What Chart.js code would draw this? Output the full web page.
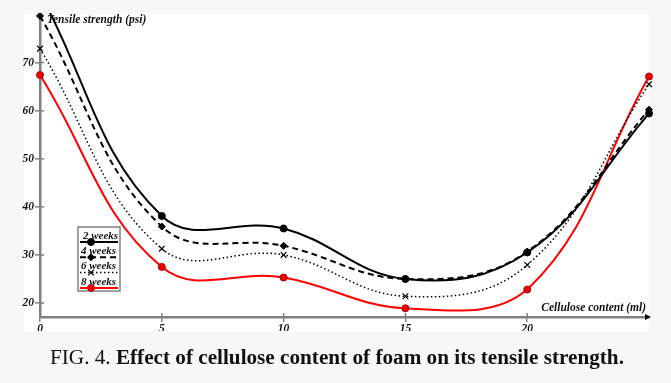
<!DOCTYPE html>
<html>
<head>
<meta charset="utf-8">
<script src="https://cdn.jsdelivr.net/npm/chart.js@4/dist/chart.umd.min.js"></script>
<style>
  html,body{margin:0;padding:0;background:#f7f7f7;}
  #wrap{position:relative;width:671px;height:383px;overflow:hidden;}
  #c{position:absolute;left:0;top:0;}
  #cap{position:absolute;left:50px;top:347px;font-family:"Liberation Serif","Times New Roman",serif;font-size:21.2px;line-height:21px;color:#111;white-space:nowrap;}
  #cap b{font-weight:bold;}
</style>
</head>
<body>
<div id="wrap">
<canvas id="c" width="671" height="383"></canvas>
<div id="cap">FIG. 4. <b>Effect of cellulose content of foam on its tensile strength.</b></div>
</div>
<script>
const xValues = [0, 5, 10, 15, 20, 25];
const weeks2 = [84.4, 38.1, 35.5, 25.0, 30.5, 59.4];
const weeks4 = [79.7, 35.9, 31.9, 25.0, 30.7, 60.2];
const weeks6 = [72.9, 31.3, 30.0, 21.4, 27.9, 65.5];
const weeks8 = [67.4, 27.5, 25.3, 18.9, 22.8, 67.1];
const seriesNames = ['2 weeks', '4 weeks', '6 weeks', '8 weeks'];
const xTicks = [0, 5, 10, 15, 20];
const yTicks = [20, 30, 40, 50, 60, 70];
const yTitle = 'Tensile strength (psi)';
const xTitle = 'Cellulose content (ml)';

const FONT = '"Liberation Serif","Times New Roman",serif';
const toPts = arr => arr.map((v, i) => ({x: xValues[i], y: v}));
const clip = {left: 10, right: 10, top: 1, bottom: 10};

const datasets = [
  {label: seriesNames[0], data: toPts(weeks2), borderColor: '#000', borderWidth: 2,
   pointStyle: 'circle', pointRadius: 3.5, pointBackgroundColor: '#000', pointBorderColor: '#000', pointBorderWidth: 1},
  {label: seriesNames[1], data: toPts(weeks4), borderColor: '#000', borderWidth: 2, borderDash: [6, 4],
   pointStyle: 'rectRot', pointRadius: 3.5, pointBackgroundColor: '#000', pointBorderColor: '#000', pointBorderWidth: 1},
  {label: seriesNames[2], data: toPts(weeks6), borderColor: '#000', borderWidth: 1.5, borderDash: [1.5, 2.5],
   pointStyle: 'crossRot', pointRadius: 4, pointBackgroundColor: '#000', pointBorderColor: '#000', pointBorderWidth: 1.2},
  {label: seriesNames[3], data: toPts(weeks8), borderColor: '#ff0000', borderWidth: 2,
   pointStyle: 'circle', pointRadius: 3.5, pointBackgroundColor: '#ee0000', pointBorderColor: '#aa0000', pointBorderWidth: 1}
].map(d => Object.assign(d, {tension: 0.4, fill: false, clip: clip}));

const bgPlugin = {
  id: 'bg',
  beforeDraw(chart) {
    const ctx = chart.ctx;
    ctx.save();
    ctx.fillStyle = '#f7f7f7';
    ctx.fillRect(0, 0, chart.width, chart.height);
    ctx.fillStyle = '#ffffff';
    ctx.fillRect(24, 14, 625, 318);
    ctx.restore();
  }
};

const decoPlugin = {
  id: 'deco',
  afterDraw(chart) {
    const ctx = chart.ctx;
    const a = chart.chartArea;
    const xs = chart.scales.x, ys = chart.scales.y;
    ctx.save();
    // inner halves of the tick marks (ticks cross the axes)
    ctx.strokeStyle = '#808080';
    ctx.lineWidth = 1.5;
    ctx.beginPath();
    xTicks.forEach(v => { const px = xs.getPixelForValue(v); ctx.moveTo(px, a.bottom); ctx.lineTo(px, a.bottom - 4); });
    yTicks.forEach(v => { const py = ys.getPixelForValue(v); ctx.moveTo(a.left, py); ctx.lineTo(a.left + 4, py); });
    ctx.stroke();
    // arrow at end of x axis
    ctx.fillStyle = '#000';
    ctx.beginPath();
    ctx.moveTo(a.right + 2, a.bottom);
    ctx.lineTo(a.right - 4, a.bottom - 3);
    ctx.lineTo(a.right - 4, a.bottom + 3);
    ctx.closePath();
    ctx.fill();
    // axis titles
    ctx.fillStyle = '#111';
    ctx.font = 'italic bold 11.5px ' + FONT;
    ctx.textBaseline = 'middle';
    ctx.textAlign = 'left';
    ctx.fillText(yTitle, a.left + 7, a.top + 6);
    ctx.textAlign = 'right';
    ctx.fillText(xTitle, a.right - 3, a.bottom - 9);
    // legend
    const bx = 78, by = 227, bw = 42, bh = 64;
    ctx.fillStyle = '#fff';
    ctx.fillRect(bx, by, bw, bh);
    ctx.strokeStyle = '#808080';
    ctx.lineWidth = 1.5;
    ctx.strokeRect(bx, by, bw, bh);
    const rowH = 15.3;
    chart.data.datasets.forEach((ds, i) => {
      const ty = by + 9 + i * rowH;
      const ly = by + 15 + i * rowH;
      ctx.fillStyle = '#111';
      ctx.font = 'italic bold 11px ' + FONT;
      ctx.textAlign = 'left';
      ctx.textBaseline = 'middle';
      ctx.fillText(ds.label, bx + (i === 0 ? 5 : 3), ty);
      ctx.strokeStyle = ds.borderColor;
      ctx.lineWidth = ds.borderWidth;
      ctx.setLineDash(ds.borderDash || []);
      ctx.beginPath();
      ctx.moveTo(bx + 2, ly);
      ctx.lineTo(bx + bw - 2, ly);
      ctx.stroke();
      ctx.setLineDash([]);
      ctx.fillStyle = ds.pointBackgroundColor;
      ctx.strokeStyle = ds.pointBorderColor;
      ctx.lineWidth = ds.pointBorderWidth;
      Chart.helpers.drawPoint(ctx, {pointStyle: ds.pointStyle, radius: ds.pointRadius, rotation: 0, borderWidth: ds.pointBorderWidth}, bx + 13, ly);
    });
    ctx.restore();
  }
};

new Chart(document.getElementById('c'), {
  type: 'line',
  data: {datasets},
  options: {
    responsive: false,
    animation: false,
    devicePixelRatio: 1,
    layout: {padding: {left: 0, right: 22, top: 14, bottom: 52}},
    plugins: {legend: {display: false}, tooltip: {enabled: false}},
    scales: {
      x: {
        type: 'linear', min: 0, max: 25,
        afterBuildTicks: s => { s.ticks = xTicks.map(v => ({value: v})); },
        afterFit: s => { s.height = 14; },
        grid: {drawOnChartArea: false, drawTicks: true, tickLength: 5, color: '#808080', lineWidth: 1.5},
        border: {color: '#808080', width: 2.5},
        ticks: {padding: 0, color: '#111', font: {family: FONT, size: 11.5, style: 'italic', weight: 'bold'}, maxRotation: 0}
      },
      y: {
        type: 'linear', min: 17.09, max: 80.1,
        afterBuildTicks: s => { s.ticks = yTicks.map(v => ({value: v})); },
        afterFit: s => { s.width = 40; },
        grid: {drawOnChartArea: false, drawTicks: true, tickLength: 5, color: '#808080', lineWidth: 1.5},
        border: {color: '#808080', width: 2.5},
        ticks: {padding: 1, color: '#111', font: {family: FONT, size: 11.5, style: 'italic', weight: 'bold'}}
      }
    }
  },
  plugins: [bgPlugin, decoPlugin]
});
</script>
</body>
</html>
